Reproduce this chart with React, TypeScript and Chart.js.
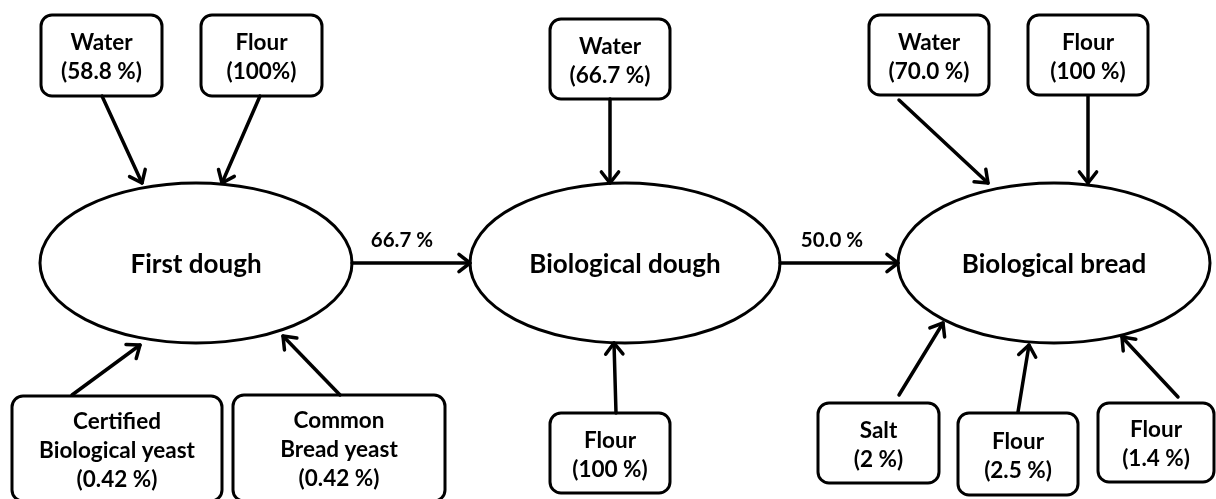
import React, { useEffect, useRef } from "react";
import { Chart, registerables } from "chart.js";

Chart.register(...registerables);

// ---- content (labels & values) ----
const processNodes = ["First dough", "Biological dough", "Biological bread"];
const transferLabels = ["66.7 %", "50.0 %"];
const inputNames = [
  ["Water"],
  ["Flour"],
  ["Certified", "Biological yeast"],
  ["Common", "Bread yeast"],
  ["Water"],
  ["Flour"],
  ["Water"],
  ["Flour"],
  ["Salt"],
  ["Flour"],
  ["Flour"],
];
const inputPercents = ["(58.8 %)", "(100%)", "(0.42 %)", "(0.42 %)", "(66.7 %)", "(100 %)", "(70.0 %)", "(100 %)", "(2 %)", "(2.5 %)", "(1.4 %)"];

// ---- layout (data units of the hidden scales: x 0..1216, y 0..499) ----
const ellipseLayout = [
  [196, 263, 156, 80],
  [625, 263, 155, 80],
  [1054, 263, 156, 80],
];
const boxLayout = [
  [41, 15, 162, 96],
  [201, 15, 322, 96],
  [12, 396, 222, 501],
  [233, 395, 445, 501],
  [550, 19, 670, 99],
  [550, 413, 670, 493],
  [869, 15, 989, 95],
  [1028, 15, 1148, 95],
  [818, 403, 939, 483],
  [958, 413, 1078, 495],
  [1098, 403, 1214, 482],
];
const inputArrowLayout = [
  [102, 96, 142, 183],
  [260, 96, 222, 183],
  [72, 395, 140, 345],
  [340, 395, 283, 336],
  [610, 99, 610, 183],
  [616, 413, 614, 343],
  [899, 100, 988, 183],
  [1088, 96, 1088, 183],
  [899, 395, 943, 323],
  [1018, 412, 1029, 345],
  [1178, 397, 1122, 337],
];
const transferArrowLayout = [
  [352, 263, 470, 263],
  [780, 263, 898, 263],
];
const transferLabelLayout = [
  [402, 240],
  [832, 240],
];

const FONT = "Lato, 'Open Sans', sans-serif";

const diagramPlugin = {
  id: "diagram",
  afterDatasetsDraw(chart: any) {
    const ctx = chart.ctx as CanvasRenderingContext2D;
    const xs = chart.scales.x;
    const ys = chart.scales.y;
    const px = (v: number) => xs.getPixelForValue(v);
    const py = (v: number) => ys.getPixelForValue(v);
    const sx = (d: number) => Math.abs(xs.getPixelForValue(d) - xs.getPixelForValue(0));
    const sy = (d: number) => Math.abs(ys.getPixelForValue(d) - ys.getPixelForValue(0));

    ctx.save();
    ctx.strokeStyle = "#000";
    ctx.fillStyle = "#000";
    ctx.lineJoin = "round";
    ctx.lineCap = "round";

    const arrow = (a: number[]) => {
      const x0 = px(a[0]), y0 = py(a[1]), x1 = px(a[2]), y1 = py(a[3]);
      ctx.lineWidth = 3.5;
      ctx.beginPath();
      ctx.moveTo(x0, y0);
      ctx.lineTo(x1, y1);
      ctx.stroke();
      const ang = Math.atan2(y1 - y0, x1 - x0);
      const L = 14, h = (38 * Math.PI) / 180;
      ctx.beginPath();
      ctx.moveTo(x1 - L * Math.cos(ang - h), y1 - L * Math.sin(ang - h));
      ctx.lineTo(x1, y1);
      ctx.lineTo(x1 - L * Math.cos(ang + h), y1 - L * Math.sin(ang + h));
      ctx.stroke();
    };

    // ellipses
    ellipseLayout.forEach((e, i) => {
      ctx.lineWidth = 3;
      ctx.beginPath();
      ctx.ellipse(px(e[0]), py(e[1]), sx(e[2]), sy(e[3]), 0, 0, Math.PI * 2);
      ctx.stroke();
      ctx.font = `bold 26px ${FONT}`;
      ctx.textAlign = "center";
      ctx.textBaseline = "middle";
      ctx.fillText(processNodes[i], px(e[0]), py(e[1] + 2));
    });

    // boxes
    boxLayout.forEach((b, i) => {
      const x0 = px(b[0]), y0 = py(b[1]), x1 = px(b[2]), y1 = py(b[3]);
      ctx.lineWidth = 3;
      ctx.beginPath();
      ctx.roundRect(x0, y0, x1 - x0, y1 - y0, 11);
      ctx.stroke();
      const lines = [...inputNames[i], inputPercents[i]];
      const cx = (x0 + x1) / 2;
      const cy = (y0 + y1) / 2 + 2;
      const lh = 29;
      ctx.font = `bold 22.5px ${FONT}`;
      ctx.textAlign = "center";
      ctx.textBaseline = "middle";
      lines.forEach((t, k) => {
        ctx.fillText(t, cx, cy + (k - (lines.length - 1) / 2) * lh);
      });
    });

    inputArrowLayout.forEach(arrow);
    transferArrowLayout.forEach(arrow);

    ctx.font = `bold 20.5px ${FONT}`;
    ctx.textAlign = "center";
    ctx.textBaseline = "middle";
    transferLabelLayout.forEach((p, i) => {
      ctx.fillText(transferLabels[i], px(p[0]), py(p[1]));
    });

    ctx.restore();
  },
};

export default function App() {
  const ref = useRef<HTMLCanvasElement | null>(null);
  useEffect(() => {
    if (!ref.current) return;
    const chart = new Chart(ref.current, {
      type: "scatter",
      data: {
        datasets: [
          {
            label: "nodes",
            data: ellipseLayout.map((e) => ({ x: e[0], y: e[1] })),
            pointRadius: 0,
            showLine: false,
          },
        ],
      },
      options: {
        responsive: false,
        animation: false,
        layout: { padding: 0 },
        plugins: { legend: { display: false }, tooltip: { enabled: false } },
        events: [],
        scales: {
          x: { type: "linear", min: 0, max: 1216, display: false },
          y: { type: "linear", min: 0, max: 499, reverse: true, display: false },
        },
      },
      plugins: [diagramPlugin],
    });
    return () => chart.destroy();
  }, []);
  return (
    <div style={{ position: "absolute", left: 0, top: 0, width: 1216, height: 499, background: "#fff" }}>
      <canvas ref={ref} width={1216} height={499} style={{ width: 1216, height: 499, display: "block" }} />
    </div>
  );
}
